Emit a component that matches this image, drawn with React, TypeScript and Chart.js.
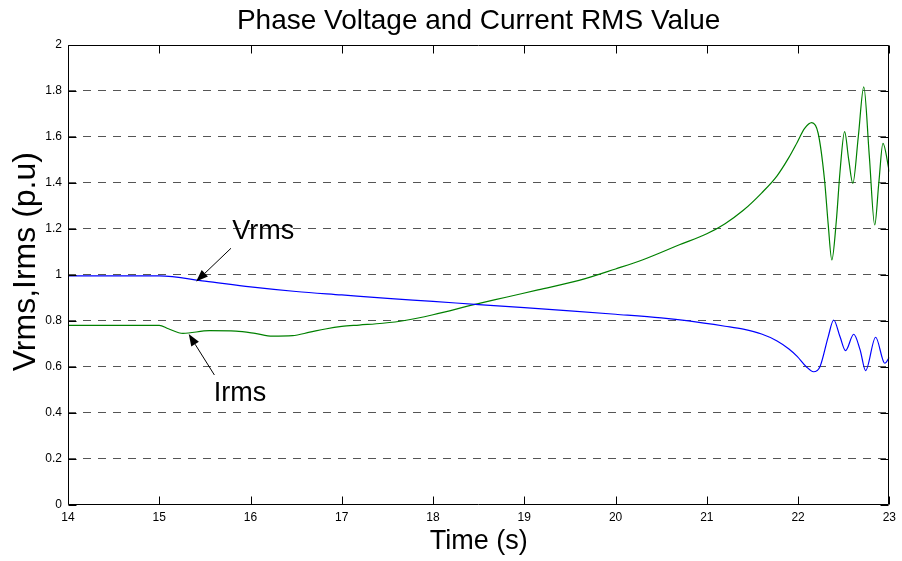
import React, { useEffect, useRef } from "react";
import { Chart, registerables } from "chart.js";

Chart.register(...registerables);

// ---------- data ----------
const timeVrms = [14, 15, 15.5, 16, 16.5, 17, 17.5, 18, 18.5, 19, 19.5, 20, 20.5, 20.8, 21.2, 21.4, 21.6, 21.77, 21.9, 21.99, 22.09, 22.17, 22.24, 22.33, 22.39, 22.46, 22.52, 22.61, 22.68, 22.74, 22.85, 22.95, 23];
const vrms = [0.995, 0.995, 0.972, 0.947, 0.927, 0.912, 0.897, 0.884, 0.870, 0.857, 0.843, 0.828, 0.812, 0.799, 0.776, 0.763, 0.742, 0.712, 0.677, 0.645, 0.600, 0.578, 0.600, 0.730, 0.803, 0.730, 0.670, 0.741, 0.673, 0.583, 0.728, 0.615, 0.641];

const timeIrms = [14, 15, 15.1, 15.26, 15.55, 15.84, 16.05, 16.24, 16.46, 16.65, 16.82, 17.0, 17.19, 17.45, 17.69, 18.0, 18.46, 18.8, 19.15, 19.6, 20.0, 20.3, 20.7, 21.0, 21.2, 21.4, 21.6, 21.77, 21.9, 21.99, 22.07, 22.15, 22.22, 22.29, 22.33, 22.37, 22.42, 22.46, 22.51, 22.555, 22.6, 22.66, 22.72, 22.78, 22.84, 22.885, 22.93, 23.0];
const irms = [0.780, 0.780, 0.765, 0.745, 0.757, 0.755, 0.745, 0.733, 0.735, 0.750, 0.764, 0.775, 0.781, 0.789, 0.801, 0.826, 0.871, 0.902, 0.934, 0.975, 1.025, 1.065, 1.130, 1.178, 1.222, 1.280, 1.355, 1.430, 1.510, 1.575, 1.635, 1.661, 1.615, 1.412, 1.220, 1.064, 1.238, 1.450, 1.622, 1.500, 1.397, 1.600, 1.817, 1.520, 1.216, 1.400, 1.571, 1.448];

const xTicks = [14, 15, 16, 17, 18, 19, 20, 21, 22, 23];
const xTickLabels = ["14", "15", "16", "17", "18", "19", "20", "21", "22", "23"];
const yTicks = [0, 0.2, 0.4, 0.6, 0.8, 1, 1.2, 1.4, 1.6, 1.8, 2];
const yTickLabels = ["0", "0.2", "0.4", "0.6", "0.8", "1", "1.2", "1.4", "1.6", "1.8", "2"];

const chartTitle = "Phase Voltage and Current RMS Value";
const xTitle = "Time (s)";
const yTitle = "Vrms,Irms (p.u)";

// annotation labels with arrows (data coordinates)
const annotationLabels = ["Vrms", "Irms"];
const annotationTextAt = [[15.8, 1.155], [15.598, 0.452]];
const annotationTails = [[15.786, 1.115], [15.604, 0.564]];
const annotationTips = [[15.404, 0.97], [15.323, 0.742]];

const FONT = "'Liberation Sans', Arial, Helvetica, sans-serif";

const boxPlugin = {
  id: "matlabBox",
  afterDatasetsDraw(chart: any) {
    const { ctx, chartArea: a, scales } = chart;
    const xs = scales.x;
    const ys = scales.y;
    const L = Math.round(a.left) + 0.5;
    const R = Math.round(a.right) - 0.5;
    const T = Math.round(a.top) + 0.5;
    const B = Math.round(a.bottom) - 0.5;
    const tl = 8;
    ctx.save();
    ctx.setLineDash([]);
    ctx.strokeStyle = "#000";
    ctx.lineWidth = 1;
    ctx.beginPath();
    ctx.rect(L, T, R - L, B - T);
    for (const v of xTicks) {
      const px = Math.round(xs.getPixelForValue(v)) + 0.5;
      ctx.moveTo(px, B);
      ctx.lineTo(px, B - tl);
      ctx.moveTo(px, T);
      ctx.lineTo(px, T + tl);
    }
    for (const v of yTicks) {
      const py = Math.round(ys.getPixelForValue(v)) + 0.5;
      ctx.moveTo(L, py);
      ctx.lineTo(L + tl, py);
      ctx.moveTo(R, py);
      ctx.lineTo(R - tl, py);
    }
    ctx.stroke();
    ctx.restore();
  },
  afterDraw(chart: any) {
    const { ctx, scales, chartArea: a } = chart;
    const xs = scales.x;
    const ys = scales.y;
    ctx.save();
    ctx.fillStyle = "#000";
    ctx.strokeStyle = "#000";
    ctx.lineWidth = 1;

    // y axis title (rotated)
    ctx.save();
    ctx.font = `32px ${FONT}`;
    ctx.textAlign = "center";
    ctx.textBaseline = "middle";
    ctx.translate(ys.left + 26, (a.top + a.bottom) / 2 - 13);
    ctx.rotate(-Math.PI / 2);
    ctx.fillText(yTitle, 0, 0);
    ctx.restore();

    ctx.font = `27px ${FONT}`;
    ctx.textAlign = "left";
    ctx.textBaseline = "alphabetic";
    annotationLabels.forEach((label, i) => {
      const tx = xs.getPixelForValue(annotationTextAt[i][0]);
      const ty = ys.getPixelForValue(annotationTextAt[i][1]);
      ctx.fillText(label, tx, ty);
      const x0 = xs.getPixelForValue(annotationTails[i][0]);
      const y0 = ys.getPixelForValue(annotationTails[i][1]);
      const x1 = xs.getPixelForValue(annotationTips[i][0]);
      const y1 = ys.getPixelForValue(annotationTips[i][1]);
      const ang = Math.atan2(y1 - y0, x1 - x0);
      const hl = 12;
      const hw = 4.5;
      const bx = x1 - hl * Math.cos(ang);
      const by = y1 - hl * Math.sin(ang);
      ctx.beginPath();
      ctx.moveTo(x0, y0);
      ctx.lineTo(bx, by);
      ctx.stroke();
      ctx.beginPath();
      ctx.moveTo(x1, y1);
      ctx.lineTo(bx + hw * Math.sin(ang), by - hw * Math.cos(ang));
      ctx.lineTo(bx - hw * Math.sin(ang), by + hw * Math.cos(ang));
      ctx.closePath();
      ctx.fill();
    });
    ctx.restore();
  },
};

export default function App() {
  const ref = useRef<HTMLCanvasElement | null>(null);

  useEffect(() => {
    document.body.style.margin = "0";
    const canvas = ref.current;
    if (!canvas) return;
    Chart.defaults.font.family = FONT;
    Chart.defaults.color = "#000";

    const chart = new Chart(canvas, {
      type: "line",
      data: {
        datasets: [
          {
            label: "Vrms",
            data: timeVrms.map((t, i) => ({ x: t, y: vrms[i] })),
            borderColor: "#0000ff",
            borderWidth: 1.2,
            pointRadius: 0,
            cubicInterpolationMode: "monotone",
            fill: false,
          },
          {
            label: "Irms",
            data: timeIrms.map((t, i) => ({ x: t, y: irms[i] })),
            borderColor: "#008000",
            borderWidth: 1.2,
            pointRadius: 0,
            cubicInterpolationMode: "monotone",
            fill: false,
          },
        ],
      },
      options: {
        responsive: false,
        animation: false,
        devicePixelRatio: 1,
        layout: { padding: { left: 0, right: 9, top: 0, bottom: 0 } },
        plugins: {
          legend: { display: false },
          tooltip: { enabled: false },
          title: {
            display: true,
            fullSize: false,
            text: chartTitle,
            color: "#000",
            font: { size: 28, weight: "normal", family: FONT },
            padding: { top: 4.5, bottom: 6.6 },
          },
        },
        scales: {
          x: {
            type: "linear",
            min: 14,
            max: 23,
            afterBuildTicks: (s: any) => {
              s.ticks = xTicks.map((v) => ({ value: v }));
            },
            afterFit: (s: any) => {
              s.height = 56.3;
            },
            ticks: {
              callback: (v: any) => {
                const i = xTicks.indexOf(Number(v));
                return i >= 0 ? xTickLabels[i] : "";
              },
              font: { size: 12, family: FONT },
              color: "#000",
              padding: 6,
              maxRotation: 0,
              autoSkip: false,
            },
            grid: { display: false, drawTicks: false },
            border: { display: false },
            title: {
              display: true,
              text: xTitle,
              color: "#000",
              font: { size: 27, family: FONT },
              padding: { top: 0, bottom: 3.6 },
            },
          },
          y: {
            type: "linear",
            min: 0,
            max: 2,
            afterBuildTicks: (s: any) => {
              s.ticks = yTicks.map((v) => ({ value: v }));
            },
            afterFit: (s: any) => {
              s.width = 68;
            },
            ticks: {
              callback: (v: any) => {
                const i = yTicks.findIndex((t) => Math.abs(t - Number(v)) < 1e-9);
                return i >= 0 ? yTickLabels[i] : "";
              },
              font: { size: 12, family: FONT },
              color: "#000",
              padding: 6,
              autoSkip: false,
            },
            grid: {
              display: true,
              drawTicks: false,
              lineWidth: 1,
              color: (c: any) =>
                c.tick && (c.tick.value === 0 || c.tick.value === 2) ? "rgba(0,0,0,0)" : "#555555",
              borderDash: [8, 7],
            } as any,
            border: { display: false, dash: [8, 7] },
            title: { display: false },
          },
        },
      } as any,
      plugins: [boxPlugin],
    });
    return () => chart.destroy();
  }, []);

  return (
    <div style={{ width: 902, height: 561 }}>
      <canvas ref={ref} width={902} height={561} style={{ display: "block" }} aria-label={yTitle} />
    </div>
  );
}
